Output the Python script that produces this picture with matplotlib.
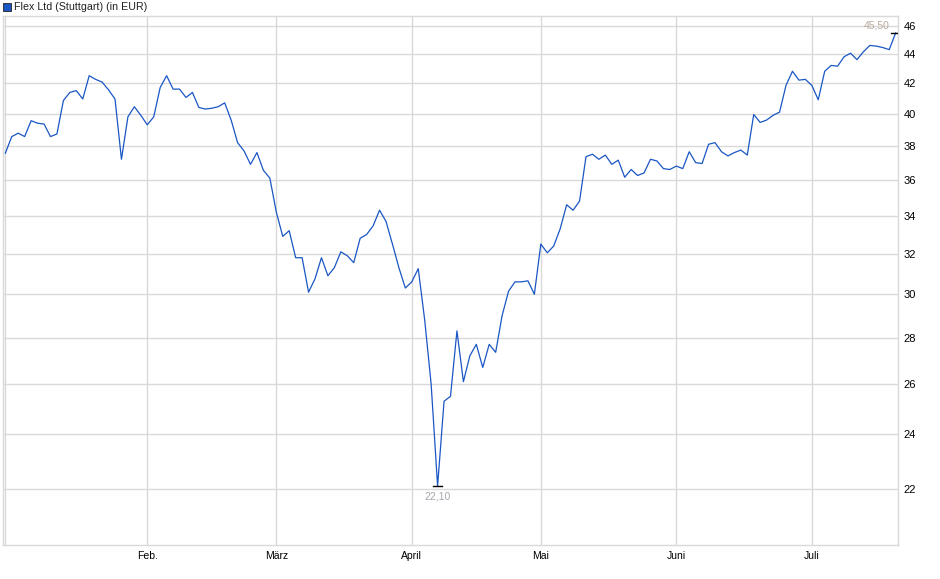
import numpy as np
import pandas as pd
import matplotlib
matplotlib.use("Agg")
import matplotlib.pyplot as plt
from matplotlib.patches import Rectangle

plt.rcParams['font.family'] = ['Liberation Sans', 'DejaVu Sans']

# trading days (Stuttgart), Jan 2 - Jul 18 2025
holidays = pd.to_datetime(["2025-04-18", "2025-04-21", "2025-05-01"])
days = pd.bdate_range("2025-01-02", "2025-07-18")
days = days[~days.isin(holidays)]

# closing prices in EUR
prices = [
    37.56, 38.57, 38.78, 38.57, 39.56, 39.40, 39.35, 38.57, 38.73, 40.85,
    41.38, 41.50, 40.95, 42.50, 42.25, 42.07, 41.55, 40.95, 37.20, 39.80,
    40.45, 39.90, 39.30, 39.80, 41.70, 42.50, 41.60, 41.60, 41.05, 41.38,
    40.40, 40.30, 40.35, 40.45, 40.70, 39.60, 38.20, 37.70, 36.90, 37.60,
    36.55, 36.10, 34.20, 32.90, 33.20, 31.80, 31.80, 30.10, 30.75, 31.80,
    30.90, 31.30, 32.10, 31.90, 31.55, 32.80, 33.00, 33.45, 34.30, 33.70,
    32.50, 31.30, 30.30, 30.60, 31.25, 28.80, 26.00, 22.10, 25.30, 25.50,
    28.30, 26.10, 27.20, 27.70, 26.70, 27.70, 27.35, 29.00, 30.15, 30.60,
    30.60, 30.65, 30.00, 32.50, 32.05, 32.40, 33.30, 34.60, 34.30, 34.80,
    37.35, 37.50, 37.20, 37.45, 36.90, 37.15, 36.15, 36.60, 36.25, 36.40,
    37.20, 37.10, 36.65, 36.60, 36.80, 36.65, 37.65, 37.00, 36.95, 38.10,
    38.20, 37.65, 37.40, 37.60, 37.75, 37.45, 39.95, 39.45, 39.60, 39.90,
    40.10, 41.85, 42.80, 42.20, 42.25, 41.85, 40.90, 42.80, 43.20, 43.15,
    43.80, 44.05, 43.60, 44.15, 44.60, 44.55, 44.45, 44.30, 45.50,
]

month_names = ["", "Feb.", "März", "April", "Mai", "Juni", "Juli"]
y_ticks = [22, 24, 26, 28, 30, 32, 34, 36, 38, 40, 42, 44, 46]

prices = np.array(prices)
x = np.arange(len(prices))
months = days.to_period("M")
month_starts = [int(np.argmax(months == m)) for m in months.unique()]

W, H = 940, 579
fig = plt.figure(figsize=(W / 100, H / 100), dpi=100)
ax = fig.add_axes([3 / W, 1 - 545 / H, 895 / W, 529 / H])

grid_c = "#d9d9d9"
ax.plot(x, prices, color="#1a56c4", lw=0.9, zorder=3)

ax.set_yscale("log")
ax.set_ylim(20.12, 46.74)
ax.set_xlim(-0.36, 138.36)

ax.yaxis.tick_right()
ax.set_yticks(y_ticks)
ax.set_yticklabels([str(v) for v in y_ticks])
ax.yaxis.set_minor_locator(matplotlib.ticker.NullLocator())
ax.set_xticks(month_starts)
ax.set_xticklabels(month_names)
ax.tick_params(axis="both", length=0, colors="black")
ax.tick_params(axis="y", pad=4, labelsize=8)
ax.tick_params(axis="x", pad=4, labelsize=7.5)
ax.grid(True, color=grid_c, lw=1)
for s in ax.spines.values():
    s.set_color(grid_c)
    s.set_linewidth(1)

# min / max markers
i_min = int(np.argmin(prices))
i_max = int(np.argmax(prices))
ax.plot([i_min - 0.65, i_min + 0.65], [prices[i_min]] * 2, color="black", lw=1, zorder=4)
ax.annotate(f"{prices[i_min]:.2f}".replace(".", ","), (i_min, prices[i_min]),
            xytext=(0, -4), textcoords="offset points", ha="center", va="top",
            fontsize=7.5, color="#a7a7b0")
ax.plot([i_max - 0.8, i_max + 0.35], [prices[i_max]] * 2, color="black", lw=1, zorder=4)
ax.annotate(f"{prices[i_max]:.2f}".replace(".", ","), (i_max, prices[i_max]),
            xytext=(-4, 2), textcoords="offset points", ha="right", va="bottom",
            fontsize=7.5, color="#b8aa9c")

# legend-style title
fig.patches.append(Rectangle((3 / W, 1 - 11 / H), 8 / W, 8 / H, transform=fig.transFigure,
                             facecolor="#1a56c4", edgecolor="#222222", lw=0.6))
fig.text(14 / W, 1 - 7 / H, "Flex Ltd (Stuttgart) (in EUR)", fontsize=7.7,
         ha="left", va="center", color="#222222")

fig.savefig("out.png", dpi=100)
